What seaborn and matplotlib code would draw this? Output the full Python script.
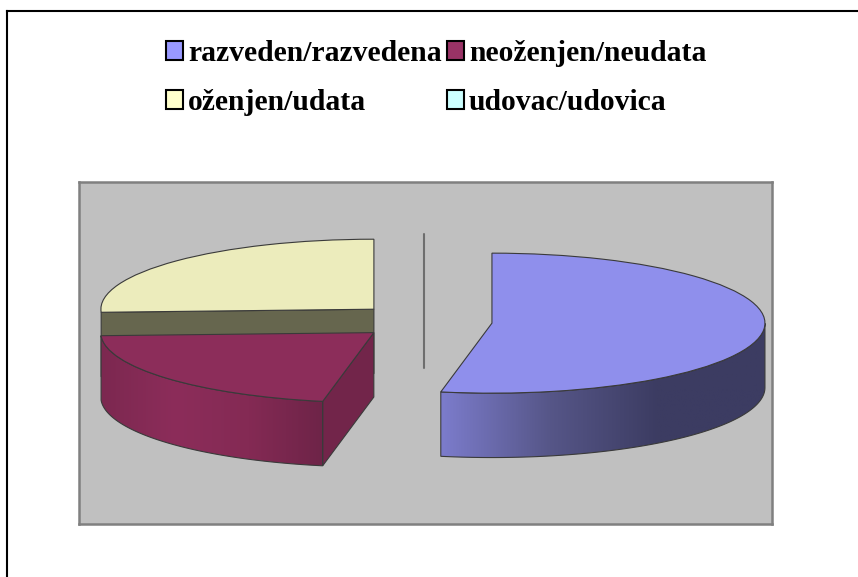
import numpy as np
import matplotlib
matplotlib.use('Agg')
import matplotlib.pyplot as plt
from matplotlib.colors import LinearSegmentedColormap
from matplotlib.patches import Patch, Polygon
import seaborn as sns

# Data
categories = ['razveden/razvedena', 'neoženjen/neudata', 'oženjen/udata', 'udovac/udovica']
shares = [53, 21.3, 25.7, 0]
explode = [0.25, 0.243, 0.254, 0.25]

# Colours
swatch_colors = ['#9999FF', '#993366', '#FFFFCC', '#CCFFFF']
top_colors = ['#8F8FEC', '#8C2D5A', '#ECECBC', '#BCECEC']
cut_colors = ['#5A5A96', '#72254A', '#66664E', '#66807F']
wall_stops = {0: ['#7C7CCC', '#565688', '#3C3C62', '#3C3C62'],
              1: ['#7C2850', '#8C2D5A', '#842A54', '#6E2448']}
edge_color = '#3A3A3A'

W, H = 858, 577
DEPTH = 0.92   # height of the pie, in units of the squashed radius

sns.set_theme(style='white')
plt.rcParams['font.family'] = ['Liberation Serif', 'DejaVu Serif']

fig = plt.figure(figsize=(W / 100, H / 100), dpi=100, facecolor='white')


def px_axes(left, top, right, bottom):
    return fig.add_axes([left / W, 1 - bottom / H, (right - left) / W, (bottom - top) / H])


# Page frame: only left and top lines are inside the picture
bg = px_axes(7, 10.5, W + 5, H + 5)
bg.set(xticks=[], yticks=[])
sns.despine(ax=bg, right=True, bottom=True)
for s in ('left', 'top'):
    bg.spines[s].set(color='black', linewidth=1.5, visible=True)

ax = px_axes(78.5, 181.5, 771.5, 523.5)
wedges, _ = ax.pie(shares, colors=top_colors, explode=explode, startangle=90,
                   counterclock=False, frame=True,
                   wedgeprops=dict(edgecolor=edge_color, linewidth=0.8))
ax.set_aspect('auto')


def rim(w, theta):
    t = np.radians(theta)
    return w.center[0] + w.r * np.cos(t), w.center[1] + w.r * np.sin(t)


def cut_face(w, theta, color, z):
    x0, y0 = w.center
    x1, y1 = rim(w, theta)
    ax.add_patch(Polygon([(x0, y0), (x1, y1), (x1, y1 - DEPTH), (x0, y0 - DEPTH)],
                         facecolor=color, edgecolor=edge_color, linewidth=0.8, zorder=z))


def outer_wall(w, stops, z):
    t = np.linspace(w.theta1, w.theta2, 200)
    t = t[np.sin(np.radians(t)) <= 1e-9]
    x, y = rim(w, t)
    pts = np.r_[np.c_[x, y], np.c_[x, y - DEPTH][::-1]]
    outline = Polygon(pts, facecolor='none', edgecolor=edge_color, linewidth=0.8, zorder=z + 0.1)
    ax.add_patch(outline)
    cmap = LinearSegmentedColormap.from_list('wall', stops)
    img = ax.imshow(np.linspace(0, 1, 256)[None, :], cmap=cmap, aspect='auto', zorder=z,
                    extent=[x.min(), x.max(), pts[:, 1].min(), pts[:, 1].max()])
    img.set_clip_path(outline)


blue, red, yellow, empty = wedges

# Stacking: yellow and blue behind, red in front
cut_face(yellow, yellow.theta2, cut_colors[2], 2)
yellow.set_zorder(3)
outer_wall(blue, wall_stops[0], 2)
blue.set_zorder(3)
outer_wall(red, wall_stops[1], 4)
cut_face(red, red.theta2, cut_colors[1], 4)
red.set_zorder(5)

# The empty category is only a line
xt, yt = rim(empty, empty.theta1)
ax.plot([xt, empty.center[0]], [yt, empty.center[1] - DEPTH], color='#6E6E6E', lw=1.5, zorder=2)

# 273 px per radius across, 70 px per radius down, centre at (424, 321.5)
ax.set_xlim((78.5 - 424) / 273, (771.5 - 424) / 273)
ax.set_ylim((321.5 - 523.5) / 70, (321.5 - 181.5) / 70)
ax.set_facecolor('#C0C0C0')
ax.set(xticks=[], yticks=[])
ax.set_frame_on(True)
for s in ax.spines.values():
    s.set(color='#808080', linewidth=1.8, visible=True)

# Legend runs down the columns, so reorder the entries
order = [0, 2, 1, 3]
handles = [Patch(facecolor=swatch_colors[i], edgecolor='black', linewidth=1.5,
                 label=categories[i]) for i in order]
fig.legend(handles=handles, loc='upper left', bbox_to_anchor=(166 / W, 1 - 40 / H), ncol=2,
           frameon=False, prop=dict(weight='bold', size=21.3), handlelength=0.58, handleheight=0.58,
           handletextpad=0.17, labelspacing=0.74, columnspacing=0.17, borderpad=0, borderaxespad=0,
           labelcolor='black')

fig.savefig('out.png', dpi=100)
